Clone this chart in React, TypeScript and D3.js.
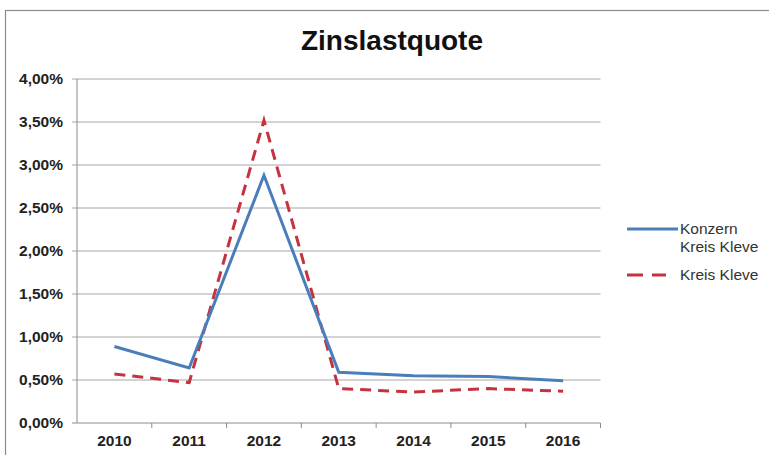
import React from "react";
import * as d3 from "d3";

const years = ["2010", "2011", "2012", "2013", "2014", "2015", "2016"];
const konzern = [0.89, 0.64, 2.88, 0.59, 0.55, 0.54, 0.49];
const kreis = [0.57, 0.47, 3.52, 0.40, 0.36, 0.40, 0.37];
const yTicks = [0, 0.5, 1, 1.5, 2, 2.5, 3, 3.5, 4];
const title = "Zinslastquote";
const legendLabels = [["Konzern", "Kreis Kleve"], ["Kreis Kleve"]];

const W = 769;
const H = 455;
const left = 77;
const right = 600.5;
const top = 79;
const bottom = 423;

const BLUE = "#4A7EBB";
const RED = "#C4333F";
const FONT = "Liberation Sans, Arial, sans-serif";

export default function App() {
  const x = d3.scaleBand<string>().domain(years).range([left, right]).padding(0);
  const y = d3.scaleLinear().domain([0, 4]).range([bottom, top]);
  const cx = (d: string) => (x(d) as number) + x.bandwidth() / 2;

  const line = d3
    .line<number>()
    .x((_, i) => cx(years[i]))
    .y((v) => y(v));

  const fmt = (v: number) => v.toFixed(2).replace(".", ",") + "%";

  return (
    <svg
      width={W}
      height={H}
      style={{ position: "absolute", left: 0, top: 0, background: "#fff" }}
    >
      <rect x={5.5} y={10.5} width={780} height={460} fill="#fff" stroke="#8a8a8a" strokeWidth={1.2} />
      <text
        x={392}
        y={50}
        textAnchor="middle"
        fontFamily={FONT}
        fontWeight="bold"
        fontSize={28}
        fill="#111"
      >
        {title}
      </text>

      {yTicks.map((t) => (
        <g key={t}>
          <line
            x1={left - 5}
            x2={right}
            y1={y(t)}
            y2={y(t)}
            stroke={t === 0 ? "#8c8c8c" : "#a6a6a6"}
            strokeWidth={1}
          />
          <text
            x={63}
            y={y(t) + 5}
            textAnchor="end"
            fontFamily={FONT}
            fontWeight="bold"
            fontSize={15.5}
            fill="#222"
          >
            {fmt(t)}
          </text>
        </g>
      ))}
      <line x1={left} x2={left} y1={top} y2={bottom} stroke="#8c8c8c" strokeWidth={1} />
      {years.map((yr) => (
        <line
          key={"t" + yr}
          x1={(x(yr) as number) + x.bandwidth()}
          x2={(x(yr) as number) + x.bandwidth()}
          y1={bottom}
          y2={bottom + 5}
          stroke="#8c8c8c"
        />
      ))}
      {years.map((yr) => (
        <text
          key={yr}
          x={cx(yr)}
          y={446}
          textAnchor="middle"
          fontFamily={FONT}
          fontWeight="bold"
          fontSize={15.5}
          fill="#222"
        >
          {yr}
        </text>
      ))}

      <path d={line(kreis) || ""} fill="none" stroke={RED} strokeWidth={3} strokeDasharray="11,7" />
      <path d={line(konzern) || ""} fill="none" stroke={BLUE} strokeWidth={3} />

      <g fontFamily={FONT} fontSize={15.5} fill="#333">
        <line x1={627} x2={678} y1={229} y2={229} stroke={BLUE} strokeWidth={3} />
        <text x={680} y={234}>{legendLabels[0][0]}</text>
        <text x={680} y={252}>{legendLabels[0][1]}</text>
        <line x1={627} x2={666} y1={275} y2={275} stroke={RED} strokeWidth={3} strokeDasharray="16,9" />
        <text x={680} y={280}>{legendLabels[1][0]}</text>
      </g>
    </svg>
  );
}
